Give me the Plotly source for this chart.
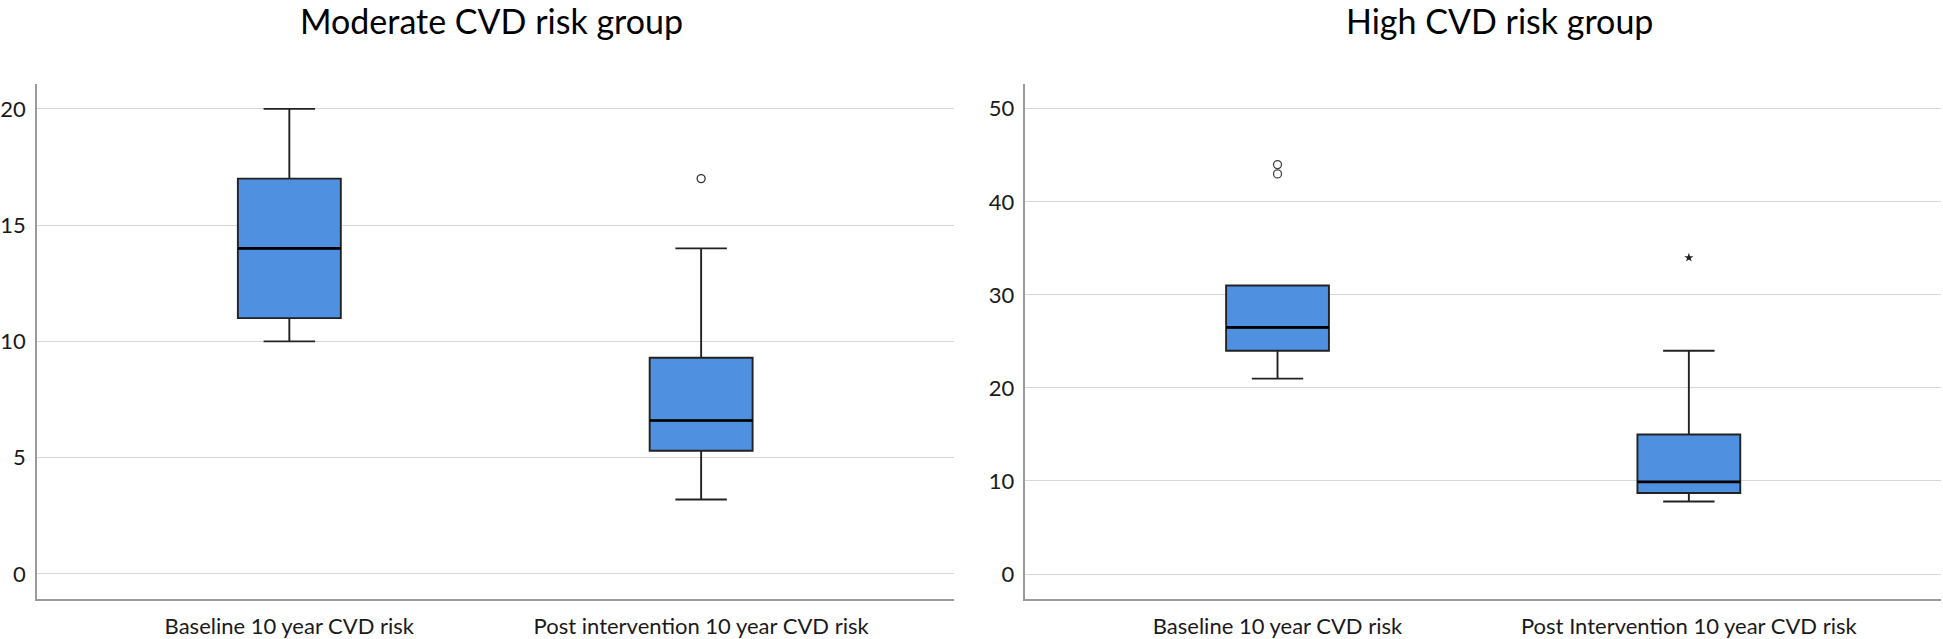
import plotly.graph_objects as go

# ---------------- data ----------------
mod_categories = ["Baseline 10 year CVD risk", "Post intervention 10 year CVD risk"]
mod_lower = [10, 3.2]
mod_q1 = [11, 5.3]
mod_median = [14, 6.6]
mod_q3 = [17, 9.3]
mod_upper = [20, 14]
mod_outlier_x = ["Post intervention 10 year CVD risk"]
mod_outlier_y = [17]

high_categories = ["Baseline 10 year CVD risk", "Post Intervention 10 year CVD risk"]
high_lower = [21, 7.8]
high_q1 = [24, 8.7]
high_median = [26.5, 9.9]
high_q3 = [31, 15]
high_upper = [31, 24]
high_outlier_x = ["Baseline 10 year CVD risk", "Baseline 10 year CVD risk"]
high_outlier_y = [43, 44]
high_extreme_x = ["Post Intervention 10 year CVD risk"]
high_extreme_y = [34]

titles = ["Moderate CVD risk group", "High CVD risk group"]

# ---------------- style ----------------
FONT = "Lato"
BOX_FILL = "#5090e0"
BOX_LINE = "#222222"
GRID = "#d6d6d6"
AXIS = "#9a9a9a"
W, H = 1943, 639

fig = go.Figure()


def add_panel(cats, lo, q1, med, q3, up, xa, ya):
    fig.add_trace(go.Box(
        x=cats, q1=q1, median=med, q3=q3, lowerfence=lo, upperfence=up,
        xaxis=xa, yaxis=ya, width=0.25, whiskerwidth=0.5,
        fillcolor=BOX_FILL, line=dict(color=BOX_LINE, width=1.9),
        boxpoints=False, showlegend=False, hoverinfo="skip"))
    # thicker median line drawn as a zero-height box
    fig.add_trace(go.Box(
        x=cats, q1=med, median=med, q3=med, lowerfence=med, upperfence=med,
        xaxis=xa, yaxis=ya, width=0.25, whiskerwidth=0,
        fillcolor="rgba(0,0,0,0)", line=dict(color="#000000", width=2.7),
        boxpoints=False, showlegend=False, hoverinfo="skip"))


add_panel(mod_categories, mod_lower, mod_q1, mod_median, mod_q3, mod_upper, "x", "y")
add_panel(high_categories, high_lower, high_q1, high_median, high_q3, high_upper, "x2", "y2")

fig.add_trace(go.Scatter(
    x=mod_outlier_x, y=mod_outlier_y, xaxis="x", yaxis="y", mode="markers",
    marker=dict(symbol="circle-open", size=8, color="#333333", line=dict(width=1.3)),
    showlegend=False, hoverinfo="skip"))
fig.add_trace(go.Scatter(
    x=high_outlier_x, y=high_outlier_y, xaxis="x2", yaxis="y2", mode="markers",
    marker=dict(symbol="circle-open", size=8, color="#444444", line=dict(width=1.3)),
    showlegend=False, hoverinfo="skip"))
fig.add_trace(go.Scatter(
    x=high_extreme_x, y=high_extreme_y, xaxis="x2", yaxis="y2", mode="markers",
    marker=dict(symbol="star", size=7, color="#222222"),
    showlegend=False, hoverinfo="skip"))

ydom = [1 - 605 / H, 1 - 85 / H]
xdom1 = [32 / W, 951 / W]
xdom2 = [1023 / W, 1941 / W]

xcommon = dict(type="category", range=[-0.613, 1.613], showgrid=False,
               showline=True, linecolor=AXIS, linewidth=1.5, ticks="",
               tickfont=dict(family=FONT, size=22, color="#1a1a1a"),
               ticklabelstandoff=7, zeroline=False, fixedrange=True)
ycommon = dict(showgrid=True, gridcolor=GRID, gridwidth=1.2,
               showline=True, linecolor=AXIS, linewidth=1.5, ticks="",
               tickfont=dict(family=FONT, size=22, color="#1a1a1a"),
               ticklabelstandoff=5, zeroline=False, fixedrange=True)

fig.update_layout(
    width=W, height=H,
    margin=dict(l=0, r=0, t=0, b=0),
    paper_bgcolor="white", plot_bgcolor="white",
    font=dict(family=FONT, color="#1a1a1a"),
    xaxis=dict(domain=xdom1, anchor="y", categoryorder="array",
               categoryarray=mod_categories, **xcommon),
    xaxis2=dict(domain=xdom2, anchor="y2", categoryorder="array",
                categoryarray=high_categories, **xcommon),
    yaxis=dict(domain=ydom, anchor="x", range=[-1.09, 21.06],
               tickvals=[0, 5, 10, 15, 20], **ycommon),
    yaxis2=dict(domain=ydom, anchor="x2", range=[-2.72, 52.64],
                tickvals=[0, 10, 20, 30, 40, 50], **ycommon),
    annotations=[
        dict(text=titles[0], x=488 / W, y=1 - 21 / H, xref="paper", yref="paper",
             xanchor="center", yanchor="middle", showarrow=False,
             font=dict(family=FONT, size=34, color="#000000")),
        dict(text=titles[1], x=1498 / W, y=1 - 21 / H, xref="paper", yref="paper",
             xanchor="center", yanchor="middle", showarrow=False,
             font=dict(family=FONT, size=34, color="#000000")),
    ],
)

fig.write_html("out.html", config={"displayModeBar": False},
               post_script="document.body.style.margin='0';")
